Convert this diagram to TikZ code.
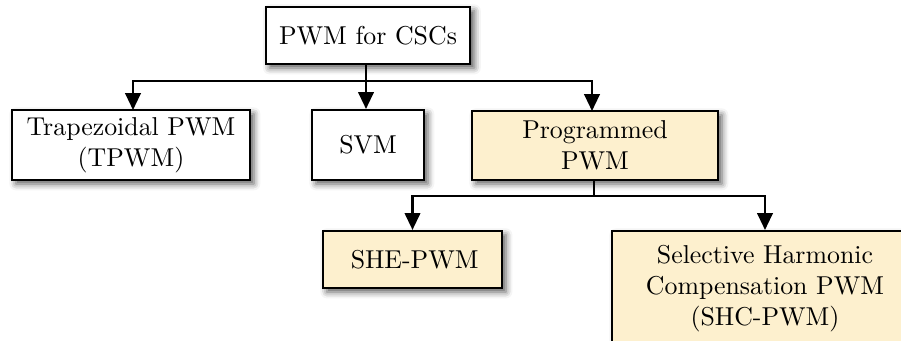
\documentclass[tikz,border=0pt]{standalone}
\usetikzlibrary{arrows.meta,shadows.blur}
\definecolor{boxfill}{RGB}{253,240,206}
\begin{document}
\begin{tikzpicture}[x=0.387pt,y=-0.387pt,
  box/.style={draw=black, line width=0.8pt, fill=white, align=center, inner sep=0pt,
    font=\normalsize,
    blur shadow={shadow xshift=1.5pt, shadow yshift=-1.5pt, shadow blur radius=2.5pt, shadow opacity=65}},
  hl/.style={box, fill=boxfill},
  conn/.style={line width=0.8pt},
  arr/.style={conn, -{Triangle[length=6.5pt,width=6pt]}}]
\useasboundingbox (0,0) rectangle (901,341);
\clip (0,0) rectangle (901,341);
\node[box, minimum width=79.3pt, minimum height=22.1pt] (top) at (368,35.5) {PWM for CSCs};
\node[box, minimum width=92.1pt, minimum height=27.1pt] (tp) at (131,145) {Trapezoidal PWM\\(TPWM)};
\node[box, minimum width=43.3pt, minimum height=27.1pt] (svm) at (368,145) {SVM};
\node[hl, minimum width=95.2pt, minimum height=26.7pt] (prog) at (595,145.5) {Programmed\\PWM};
\node[hl, minimum width=69.3pt, minimum height=22.1pt] (she) at (412.5,259.5) {\,SHE-PWM};
\node[hl, minimum width=118.4pt, minimum height=44.5pt] (shc) at (765,288.5) {Selective Harmonic\\Compensation PWM\\(SHC-PWM)};
\coordinate (j1) at (366,81);
\coordinate (j2) at (594,196);
\coordinate (t1) at (133,110);
\coordinate (t3) at (592,111);
\draw[conn] (top.south -| j1) -- (j1);
\draw[arr] (j1) -| (t1);
\draw[arr] (j1) -- (svm.north -| j1);
\draw[arr] (j1) -| (t3);
\draw[conn] (prog.south -| j2) -- (j2);
\draw[arr] (j2) -| (she.north);
\draw[arr] (j2) -| (shc.north);
\end{tikzpicture}
\end{document}
